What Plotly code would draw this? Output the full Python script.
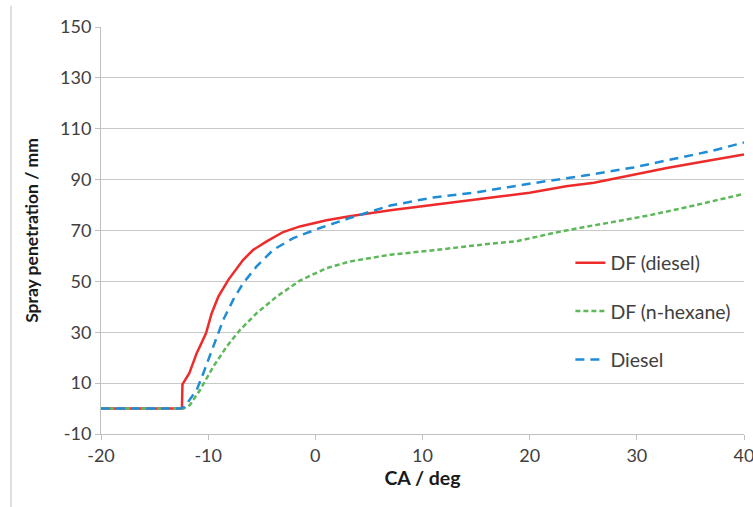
import plotly.graph_objects as go

# DF (diesel)
df_diesel_x = [-20, -15, -12.6, -12.45, -12.4, -11.76, -11.07, -10.2, -9.67, -9.05, -8.12, -6.73, -5.79, -4.54, -3.0, -1.44,
               1.05, 3.2, 7.0, 11.0, 14.0, 17.2, 20.0, 23.4, 26.0, 28.1, 30.5, 32.8, 36.5, 40.0]
df_diesel_y = [0, 0, 0, 0, 9.5, 13.9, 21.8, 29.6, 37.5, 44.0, 50.6, 58.5, 62.4, 65.7, 69.4, 71.6,
               74.0, 75.6, 78.0, 80.2, 81.6, 83.4, 84.8, 87.4, 88.8, 90.6, 92.5, 94.6, 97.3, 99.9]

# DF (n-hexane)
df_hexane_x = [-20, -15, -12.3, -11.7, -10.76, -9.52, -8.27, -7.03, -5.48, -3.61, -1.44, 1.05, 3.2, 7.0, 11.0, 15.0,
               18.8, 22.0, 25.0, 28.0, 31.2, 35.0, 40.0]
df_hexane_y = [0, 0, 0, 1.4, 7.3, 16.5, 24.4, 30.9, 37.5, 44.0, 50.3, 55.2, 57.8, 60.5, 62.2, 64.2,
               65.8, 68.8, 71.3, 73.5, 76.0, 79.5, 84.4]

# Diesel
diesel_x = [-20, -15, -12.6, -12.2, -11.07, -10.45, -9.52, -8.59, -7.66, -6.73, -5.48, -3.93, -2.06, 0.43, 3.2, 7.0,
            11.0, 15.0, 20.3, 25.0, 29.7, 34.3, 37.0, 40.0]
diesel_y = [0, 0, 0, 0.7, 7.3, 13.9, 24.4, 34.9, 42.8, 49.3, 55.9, 62.4, 67.0, 71.0, 74.9, 79.8,
            83.0, 85.0, 88.6, 91.5, 94.8, 98.8, 101.3, 104.6]

x_ticks = [-20, -10, 0, 10, 20, 30, 40]
x_tick_labels = ["-20", "-10", "0", "10", "20", "30", "40"]
y_ticks = [-10, 10, 30, 50, 70, 90, 110, 130, 150]
y_tick_labels = ["-10", "10", "30", "50", "70", "90", "110", "130", "150"]

FONT = "Lato"
fig = go.Figure()
fig.add_trace(go.Scatter(x=df_diesel_x, y=df_diesel_y, mode="lines", name="DF (diesel)",
                         legendgroup="a", line=dict(color="#EE2B2B", width=2.5)))
fig.add_trace(go.Scatter(x=df_hexane_x, y=df_hexane_y, mode="lines", name="DF (n-hexane)",
                         legendgroup="b", line=dict(color="#5DB85A", width=2.5, dash="5px,3px")))
fig.add_trace(go.Scatter(x=diesel_x, y=diesel_y, mode="lines", name="Diesel",
                         legendgroup="c", line=dict(color="#1F8DD6", width=2.5, dash="9px,6px")))

fig.update_layout(
    width=753, height=507,
    margin=dict(l=101, r=9, t=27, b=73),
    paper_bgcolor="white", plot_bgcolor="white",
    font=dict(family=FONT, size=18, color="#404040"),
    showlegend=True,
    legend=dict(x=0.73, y=0.468, xanchor="left", yanchor="top", bgcolor="rgba(0,0,0,0)",
                tracegroupgap=20, font=dict(family=FONT, size=19.5, color="#404040"),
                itemwidth=30),
    xaxis=dict(range=[-20, 40], tickvals=x_ticks, ticktext=x_tick_labels, showgrid=False, zeroline=False,
               showline=True, linecolor="#BFBFBF", linewidth=1, ticks="outside",
               tickcolor="#BFBFBF", ticklen=5, ticklabeloverflow="allow", automargin=False,
               tickfont=dict(family=FONT, size=18, color="#404040"),
               title=dict(text="<b>CA / deg</b>", font=dict(family=FONT, size=19.5, color="#1a1a1a"), standoff=6)),
    yaxis=dict(range=[-10, 150], tickvals=y_ticks, ticktext=y_tick_labels, showgrid=True, gridcolor="#C8C8C8", gridwidth=1,
               zeroline=False, showline=True, linecolor="#BFBFBF", linewidth=1, ticks="outside",
               tickcolor="#BFBFBF", ticklen=5, automargin=False,
               tickfont=dict(family=FONT, size=18, color="#404040"),
               title=dict(text="<b>Spray penetration / mm</b>", font=dict(family=FONT, size=17.5, color="#1a1a1a"), standoff=16)),
)
fig.add_shape(type="line", xref="paper", yref="paper", x0=-0.14, x1=-0.14, y0=-0.2, y1=1.052,
              line=dict(color="#BFBFBF", width=1))

fig.write_html("out.html")
